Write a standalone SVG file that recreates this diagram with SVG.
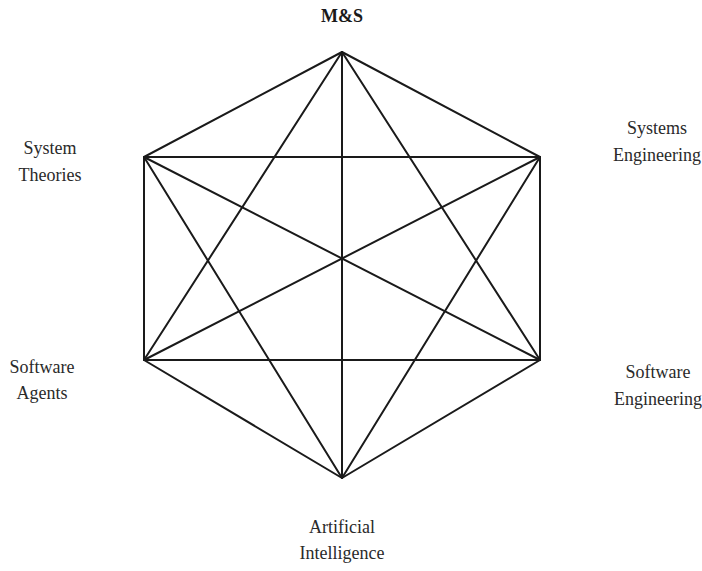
<svg xmlns="http://www.w3.org/2000/svg" width="702" height="571" viewBox="0 0 702 571">
<style>
.e{stroke:#1a1a1a;stroke-width:2;fill:none;stroke-linecap:round;stroke-linejoin:round}
.t{font-family:"Liberation Serif","Times New Roman",serif;font-size:18px;fill:#2a2a2a;text-anchor:middle}
.b{font-weight:bold;fill:#1a1a1a}
</style>
<rect width="702" height="571" fill="#fff"/>
<g id="connectors">
<path class="e" d="M342,52 L540,157 L540,360 L342,478 L144,360 L144,157 Z"/>
<path class="e" d="M342,52 L540,360 L144,360 Z"/>
<path class="e" d="M342,478 L144,157 L540,157 Z"/>
<path class="e" d="M342,52 L342,478 M144,157 L540,360 M144,360 L540,157"/>
</g>
<g id="ms"><text class="t b" x="342" y="22">M&amp;S</text></g>
<g id="systems-engineering"><text class="t" x="657" y="134">Systems</text><text class="t" x="657" y="161">Engineering</text></g>
<g id="system-theories"><text class="t" x="50" y="154">System</text><text class="t" x="50" y="181">Theories</text></g>
<g id="software-agents"><text class="t" x="42" y="373">Software</text><text class="t" x="42" y="399">Agents</text></g>
<g id="software-engineering"><text class="t" x="658" y="378">Software</text><text class="t" x="658" y="405">Engineering</text></g>
<g id="artificial-intelligence"><text class="t" x="342" y="533">Artificial</text><text class="t" x="342" y="559">Intelligence</text></g>
</svg>
